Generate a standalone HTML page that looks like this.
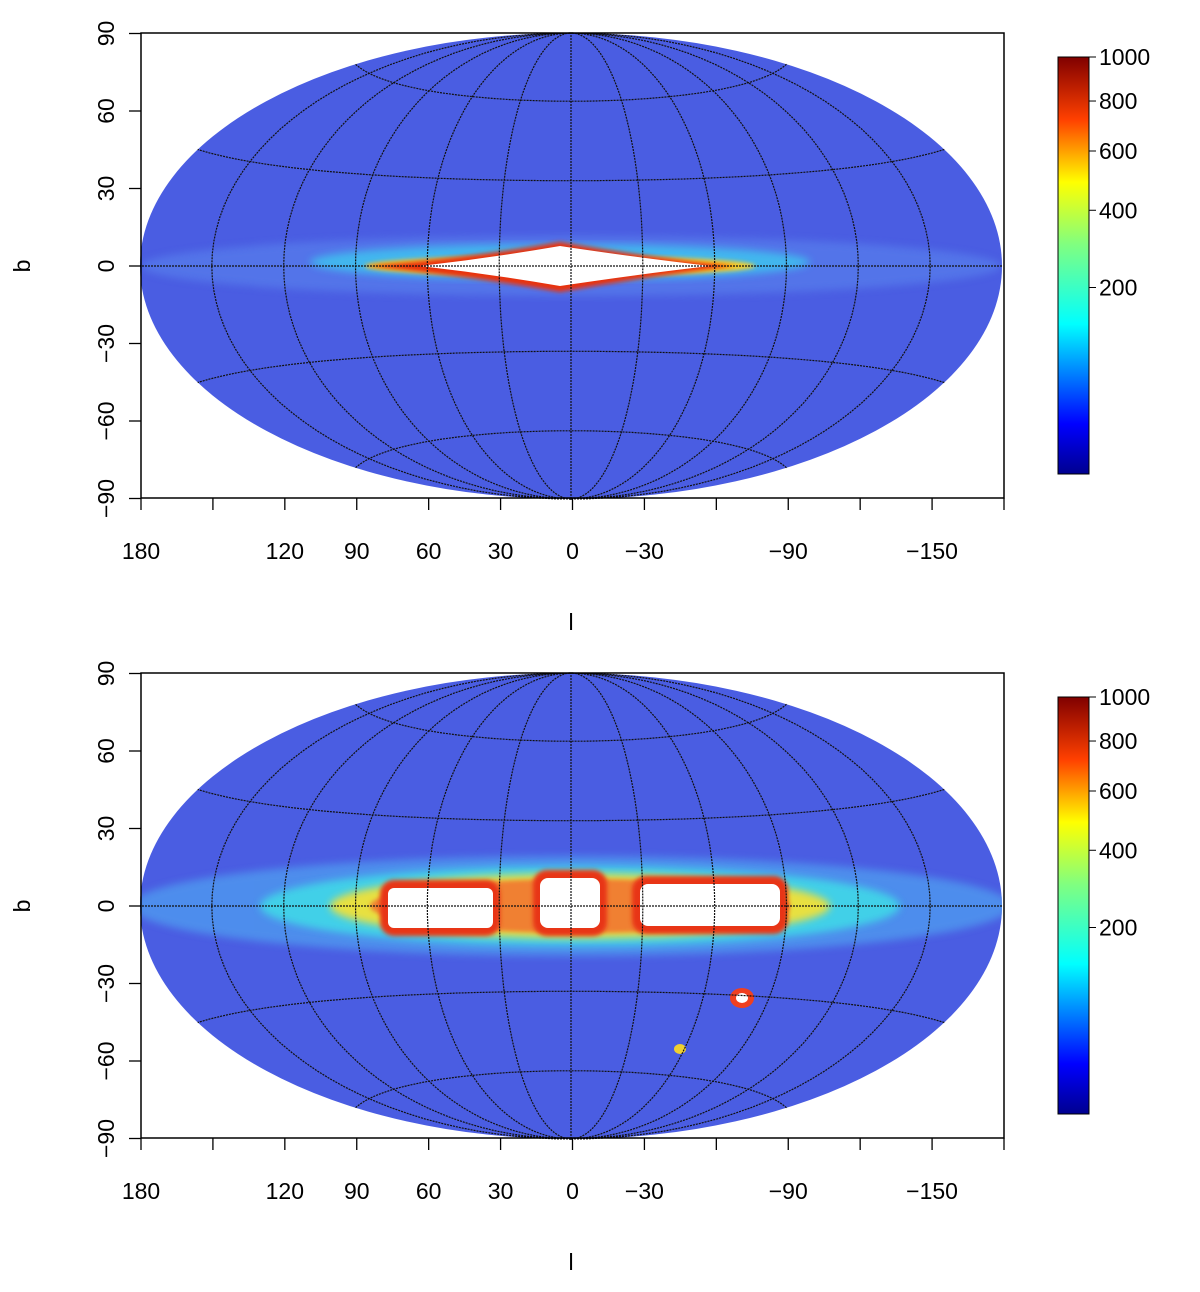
<!DOCTYPE html>
<html><head><meta charset="utf-8"><style>
body{margin:0;background:#fff}
svg text{font-family:"Liberation Sans",sans-serif;font-size:23px;fill:#000}
</style></head><body>
<svg id="s" width="1200" height="1287" xmlns="http://www.w3.org/2000/svg">
<defs>
<linearGradient id="jet" x1="0" y1="1" x2="0" y2="0">
<stop offset="0" stop-color="#00008f"/><stop offset="0.12" stop-color="#0000ff"/><stop offset="0.36" stop-color="#00ffff"/><stop offset="0.55" stop-color="#80ff80"/><stop offset="0.7" stop-color="#ffff00"/><stop offset="0.85" stop-color="#ff4000"/><stop offset="1" stop-color="#800000"/>
</linearGradient>
<filter id="blur4"><feGaussianBlur stdDeviation="4"/></filter>
<filter id="blur2"><feGaussianBlur stdDeviation="2"/></filter>
</defs>
</svg>
<script>
const xTickVals=[180,150,120,90,60,30,0,-30,-60,-90,-120,-150,-180];
const xLabelVals=[180,120,90,60,30,0,-30,-90,-150];
const yTickVals=[90,60,30,0,-30,-60,-90];
const cbTickVals=[1000,800,600,400,200];
const meridianVals=[-150,-120,-90,-60,-30,0,30,60,90,120,150];
const parallelVals=[-60,-30,0,30,60];
const panelOffsets=[0,640];
const NS='http://www.w3.org/2000/svg';
const svg=document.getElementById('s');
function mk(t,a,p){const e=document.createElementNS(NS,t);for(const k in a)e.setAttribute(k,a[k]);(p||svg).appendChild(e);return e;}
const X0=141,X1=1004,cx=571,rx=431,ry=233;
function xs(l){return X0+(180-l)/360*(X1-X0);}
function hammer(l,b){const L=l*Math.PI/360,B=b*Math.PI/180;const d=Math.sqrt(1+Math.cos(B)*Math.cos(L));return [Math.cos(B)*Math.sin(L)/d, Math.sin(B)/d];}
function cbPos(v,top,bot){return bot-Math.sqrt(v/1000)*(bot-top);}
panelOffsets.forEach((off,pi)=>{
 const Y0=33+off,Y1=498+off,cy=266+off;
 const ys=b=>cy-b/90*(Y1-Y0)/2;
 const g=mk('g',{});
 
 
 const clipId='c'+pi;
 const cp=mk('clipPath',{id:clipId},g);mk('ellipse',{cx:cx,cy:cy,rx:rx,ry:ry},cp);
 const ell=mk('ellipse',{cx:cx,cy:cy,rx:rx,ry:ry,fill:'#4a5de2'},g);
 
 
 const band=mk('g',{'clip-path':'url(#'+clipId+')'},g);
 
 
 if(pi===0){
  mk('ellipse',{cx:571,cy:cy,rx:430,ry:30,fill:'#5a84ee',filter:'url(#blur4)',opacity:0.6},band);
  mk('ellipse',{cx:560,cy:cy-4,rx:250,ry:18,fill:'#3cc8f0',filter:'url(#blur4)',opacity:0.8},band);
  mk('ellipse',{cx:560,cy:cy,rx:195,ry:10,fill:'#ffd020',filter:'url(#blur2)'},band);
  mk('path',{d:`M365 ${cy} Q470 ${cy-8} 560 ${cy-24} Q650 ${cy-8} 735 ${cy} Q650 ${cy+10} 560 ${cy+26} Q470 ${cy+10} 365 ${cy}Z`,fill:'#e83010',filter:'url(#blur2)'},band);
  mk('path',{d:`M420 ${cy} Q490 ${cy-8} 560 ${cy-20} Q640 ${cy-8} 710 ${cy} Q640 ${cy+8} 560 ${cy+20} Q490 ${cy+8} 420 ${cy}Z`,fill:'#fff'},band);
 } else {
  mk('ellipse',{cx:571,cy:cy,rx:440,ry:50,fill:'#4f9ef0',filter:'url(#blur4)',opacity:0.75},band);
  mk('ellipse',{cx:580,cy:cy,rx:320,ry:40,fill:'#40d8e8',filter:'url(#blur4)',opacity:0.9},band);
  mk('ellipse',{cx:580,cy:cy,rx:250,ry:32,fill:'#e8e040',filter:'url(#blur4)'},band);
  mk('ellipse',{cx:580,cy:cy,rx:210,ry:27,fill:'#f08030',filter:'url(#blur2)'},band);
  mk('rect',{x:380,y:cy-26,width:120,height:56,fill:'#e83418',rx:14,filter:'url(#blur2)'},band);
  mk('rect',{x:533,y:cy-36,width:74,height:66,fill:'#e83418',rx:14,filter:'url(#blur2)'},band);
  mk('rect',{x:632,y:cy-30,width:156,height:58,fill:'#e83418',rx:14,filter:'url(#blur2)'},band);
  mk('rect',{x:388,y:cy-18,width:105,height:40,fill:'#fff',rx:6},band);
  mk('rect',{x:540,y:cy-28,width:60,height:50,fill:'#fff',rx:8},band);
  mk('rect',{x:640,y:cy-22,width:140,height:42,fill:'#fff',rx:8},band);
  mk('ellipse',{cx:742,cy:cy+92,rx:12,ry:10,fill:'#f04020'},band);
  mk('ellipse',{cx:742,cy:cy+92,rx:6,ry:5,fill:'#fff'},band);
  mk('ellipse',{cx:680,cy:cy+143,rx:6,ry:5,fill:'#f0d030'},band);
 }
 const grid=mk('g',{fill:'none',stroke:'#111','stroke-width':1.2,'stroke-dasharray':'2 1'},g);
 
 
 meridianVals.forEach(l=>{let d='';for(let b=-90;b<=90;b+=3){const t=b*Math.PI/180;const x=cx-(l/180)*rx*Math.cos(t),y=cy-ry*Math.sin(t);d+=(b===-90?'M':'L')+x.toFixed(1)+' '+y.toFixed(1);}const p=mk('path',{d:d},grid);});
 parallelVals.forEach(b=>{let d='';for(let l=-180;l<=180;l+=4){const h=hammer(l,b);const x=cx-h[0]*rx,y=cy-h[1]*ry;d+=(l===-180?'M':'L')+x.toFixed(1)+' '+y.toFixed(1);}const p=mk('path',{d:d},grid);});
 const fr=mk('rect',{x:X0,y:Y0,width:X1-X0,height:Y1-Y0,fill:'none',stroke:'#000','stroke-width':1.5},g);
 
 
 xTickVals.forEach(l=>{const t=mk('line',{x1:xs(l),x2:xs(l),y1:Y1,y2:Y1+12,stroke:'#000','stroke-width':1.3},g);});
 xLabelVals.forEach(l=>{const t=mk('text',{x:xs(l),y:Y1+61,'text-anchor':'middle'},g);t.textContent=String(l).replace('-','\u2212');});
 yTickVals.forEach(b=>{const y=ys(b);const t=mk('line',{x1:X0-12,x2:X0,y1:y,y2:y,stroke:'#000','stroke-width':1.3},g);
  const tx=mk('text',{x:0,y:0,'text-anchor':'middle',transform:`translate(${X0-27},${y}) rotate(-90)`},g);tx.textContent=String(b).replace('-','\u2212');});
 const xt=mk('text',{x:571,y:Y1+132,'text-anchor':'middle'},g);xt.textContent='l';
 
 
 const yt=mk('text',{x:0,y:0,'text-anchor':'middle',transform:`translate(30,${cy}) rotate(-90)`},g);yt.textContent='b';
 
 
 const cbTop=57+off,cbBot=474+off;
 const cb=mk('rect',{x:1058,y:cbTop,width:31,height:cbBot-cbTop,fill:'url(#jet)',stroke:'#000','stroke-width':1},g);
 
 
 cbTickVals.forEach(v=>{const y=cbPos(v,cbTop,cbBot);const t=mk('line',{x1:1089,x2:1096,y1:y,y2:y,stroke:'#000'},g);
  const tx=mk('text',{x:1099,y:y+8},g);tx.textContent=v;});
});
</script>
</body></html>
